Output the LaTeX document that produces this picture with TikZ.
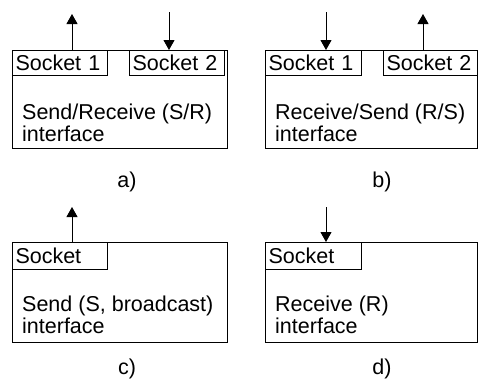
\documentclass[tikz,border=0pt]{standalone}
\usepackage{fontspec}
\setmainfont{Liberation Sans}
\usetikzlibrary{arrows.meta}

\begin{document}
\begin{tikzpicture}[
        x=1pt, y=-1pt,
        font=\fontsize{21.5}{22}\selectfont,
        iface/.style={draw, line width=1pt, anchor=north west, inner sep=0pt},
        sock/.style={draw, line width=1pt, anchor=north west, inner xsep=3pt,
            inner ysep=0pt, minimum height=25pt, align=left},
        body/.style={anchor=west, align=left, inner sep=0pt},
        flow/.style={line width=1pt, -{Triangle[width=11pt, length=10pt]}},
    ]
    \useasboundingbox (0,0) rectangle (478,380);

    % a) send / receive
    \node[iface, minimum width=215pt, minimum height=98pt] (ia) at (12,50) {};
    \node[sock, text width=89pt] (sa1) at (12,50) {Socket 1};
    \node[sock, text width=89pt] (sa2) at (129,50) {Socket 2};
    \node[body] (ta) at (22,123) {Send/Receive (S/R)\\interface};
    \node (la) at (127,182) {a)};
    \coordinate (a1) at (72,14);
    \coordinate (a2) at (169,12);
    \draw[flow] (sa1.north -| a1) -- (a1);
    \draw[flow] (a2) -- (sa2.north -| a2);

    % b) receive / send
    \node[iface, minimum width=212pt, minimum height=98pt] (ib) at (265,50) {};
    \node[sock, text width=90pt] (sb1) at (265,50) {Socket 1};
    \node[sock, text width=88pt] (sb2) at (383,50) {Socket 2};
    \node[body] (tb) at (275,123) {Receive/Send (R/S)\\interface};
    \node (lb) at (382,182) {b)};
    \coordinate (b1) at (326,12);
    \coordinate (b2) at (423,14);
    \draw[flow] (b1) -- (sb1.north -| b1);
    \draw[flow] (sb2.north -| b2) -- (b2);

    % c) send only
    \node[iface, minimum width=215pt, minimum height=100pt] (ic) at (12,242) {};
    \node[sock, text width=89pt, minimum height=27pt] (sc) at (12,242) {Socket};
    \node[body] (tc) at (22,315) {Send (S, broadcast)\\interface};
    \node (lc) at (127,369) {c)};
    \coordinate (c1) at (72,207);
    \draw[flow] (sc.north -| c1) -- (c1);

    % d) receive only
    \node[iface, minimum width=212pt, minimum height=100pt] (id) at (265,242) {};
    \node[sock, text width=90pt, minimum height=27pt] (sd) at (265,242) {Socket};
    \node[body] (td) at (275,315) {Receive (R)\\interface};
    \node (ld) at (382,369) {d)};
    \coordinate (d1) at (326,207);
    \draw[flow] (d1) -- (sd.north -| d1);
\end{tikzpicture}
\end{document}
